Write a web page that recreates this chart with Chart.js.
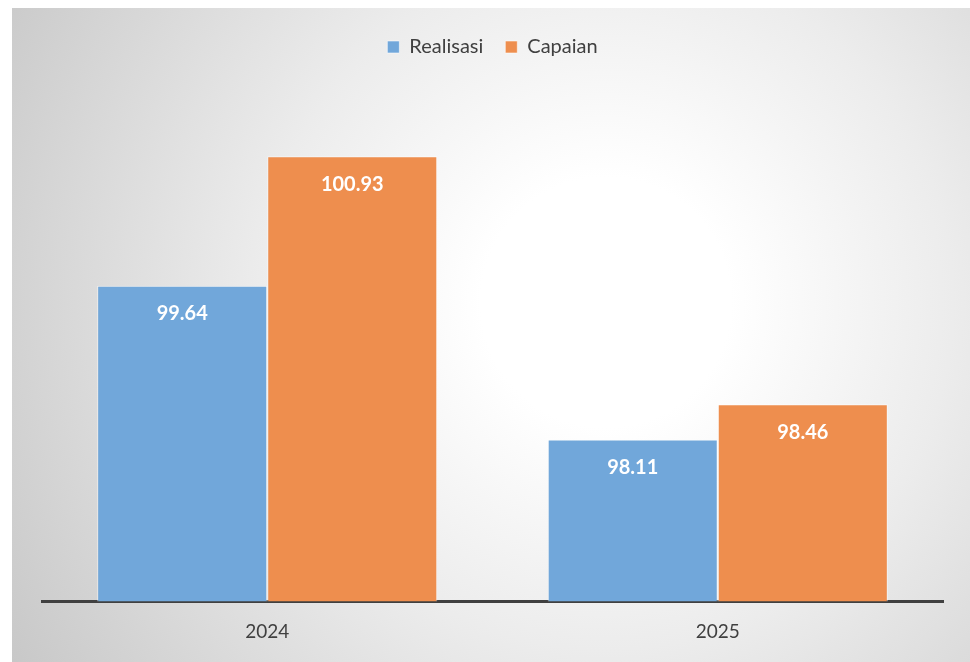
<!DOCTYPE html>
<html>
<head>
<meta charset="utf-8">
<script src="https://cdn.jsdelivr.net/npm/chart.js@4.4.1/dist/chart.umd.min.js"></script>
<style>
  html, body { margin: 0; padding: 0; background: #fff; }
  #wrap {
    position: absolute; left: 12px; top: 8px; width: 958px; height: 654px;
    background: radial-gradient(circle at 62% 45%, #ffffff 0%, #ffffff 18%, #ececec 50%, #c8c8c8 100%);
  }
</style>
</head>
<body>
<div id="wrap"><canvas id="chart" width="958" height="654"></canvas></div>
<script>
const years = ['2024', '2025'];
const realisasi = [99.64, 98.11];
const capaian = [100.93, 98.46];

// white value labels near the top of each bar
const barLabels = {
  id: 'barLabels',
  afterDatasetsDraw(chart) {
    const ctx = chart.ctx;
    ctx.save();
    ctx.fillStyle = '#ffffff';
    ctx.font = 'bold 20px Lato';
    ctx.textAlign = 'center';
    ctx.textBaseline = 'middle';
    chart.data.datasets.forEach((ds, i) => {
      chart.getDatasetMeta(i).data.forEach((bar, j) => {
        ctx.fillText(ds.data[j].toFixed(2), bar.x, bar.y + 28);
      });
    });
    ctx.restore();
  }
};

// extra room under the legend
const legendGap = {
  id: 'legendGap',
  beforeInit(chart) {
    const fit = chart.legend.fit;
    chart.legend.fit = function () {
      fit.bind(chart.legend)();
      this.height += 32;
    };
  }
};

new Chart(document.getElementById('chart'), {
  type: 'bar',
  data: {
    labels: years,
    datasets: [
      { label: 'Realisasi', data: realisasi, backgroundColor: '#71A7DA', borderColor: 'rgba(255,255,255,0.55)', borderWidth: 1 },
      { label: 'Capaian', data: capaian, backgroundColor: '#EE8E4E', borderColor: 'rgba(255,255,255,0.55)', borderWidth: 1 }
    ]
  },
  options: {
    responsive: false,
    animation: false,
    layout: { padding: { left: 30, right: 27, top: 7, bottom: 0 } },
    datasets: { bar: { categoryPercentage: 0.755, barPercentage: 1 } },
    plugins: {
      legend: {
        position: 'top',
        labels: {
          color: '#404040',
          font: { family: 'Lato', size: 20 },
          boxWidth: 12, boxHeight: 12,
          padding: 22
        }
      },
      tooltip: { enabled: false }
    },
    scales: {
      y: { display: false, min: 96.5, max: 101.5 },
      x: {
        grid: { display: false, drawTicks: false },
        border: { color: '#404040', width: 3 },
        ticks: { color: '#404040', font: { family: 'Lato', size: 19 }, padding: 19 }
      }
    }
  },
  plugins: [barLabels, legendGap]
});
</script>
</body>
</html>
